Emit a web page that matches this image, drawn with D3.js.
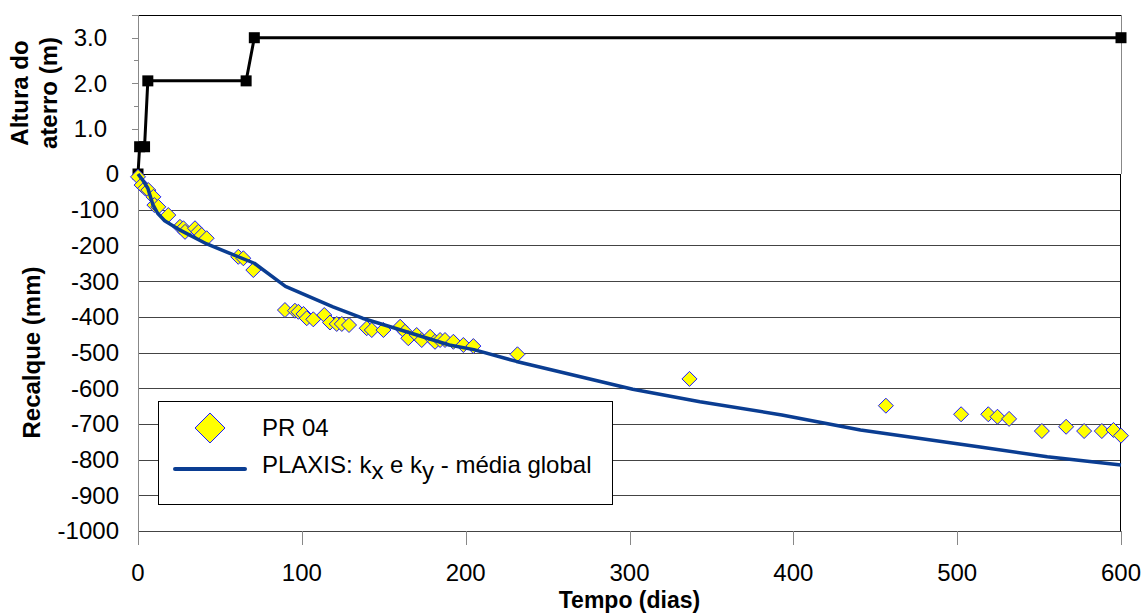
<!DOCTYPE html>
<html><head><meta charset="utf-8">
<script src="https://cdn.jsdelivr.net/npm/d3@7"></script>
<style>body{margin:0;background:#fff}svg{display:block;font-family:"Liberation Sans",Arial,sans-serif}</style>
</head><body>
<svg id="c" width="1145" height="613"></svg>
<script>
// Embankment height (top panel)
const fillTime = [0, 1, 4, 6, 66, 71, 600];
const fillHeight = [0, 0.6, 0.6, 2.05, 2.05, 3.0, 3.0];
// PR 04 measured settlement
const prTime = [0, 2.2, 4.3, 6.3, 9.4, 10, 12.4, 18.5, 25.6, 27.7, 28.7, 34.8, 36.8, 38.9, 41.9,
  61.2, 64.3, 70.4, 89.7, 95.8, 97.9, 101, 103, 107, 113.7, 117.2, 121.3, 124.4, 128.8,
  139.6, 142.7, 149.8, 160, 163, 165, 170.1, 173.2, 178.3, 181.3, 184.4, 187.4, 192.5, 198.6, 204.7,
  231.6, 336.6, 456.5, 502.4, 519, 524.6, 531.7, 551.7, 566.5, 577.5, 588.3, 595.4, 600];
const prSettle = [-8, -31, -40, -45, -64, -87, -92, -115, -148, -152, -162, -152, -162, -171, -180,
  -232, -236, -269, -381, -383, -386, -392, -404, -407, -395, -416, -420, -420, -423,
  -432, -437, -437, -428, -442, -460, -451, -465, -456, -470, -465, -465, -470, -479, -482,
  -505, -574, -649, -673, -673, -680, -686, -720, -708, -720, -720, -717, -733];
// PLAXIS prediction
const plaxisTime = [0, 3, 6, 9, 12, 16, 26, 42, 58, 71, 90, 119, 137, 154, 190, 205, 231, 302, 343, 393, 441, 514, 555, 600];
const plaxisSettle = [0, -18, -40, -85, -110, -130, -158, -196, -226, -250, -315, -372, -404, -428, -479, -492, -525, -603, -638, -675, -717, -765, -792, -815];
// ticks
const xTicks = [0, 100, 200, 300, 400, 500, 600];
const topTicks = [0, 1, 2, 3];
const topTickLabels = ["", "1.0", "2.0", "3.0"];
const topMinor = [0.5, 1.5, 2.5];
const botTicks = [0, -100, -200, -300, -400, -500, -600, -700, -800, -900, -1000];
const seriesNames = ["PR 04", "PLAXIS: k", "x", " e k", "y", " - média global"];

const svg = d3.select("#c");
const x = d3.scaleLinear().domain([0, 600]).range([138, 1121]);
const yT = d3.scaleLinear().domain([0, 3.5]).range([174, 15]);
const yB = d3.scaleLinear().domain([0, -1000]).range([174, 531]);
const FS = 24;
const lineColor = "#0a3d92";

// bottom grid
svg.append("g").selectAll("line").data(botTicks).join("line")
  .attr("x1", x(0)).attr("x2", x(600))
  .attr("y1", d => Math.round(yB(d)) + 0.5).attr("y2", d => Math.round(yB(d)) + 0.5)
  .attr("stroke", d => d === 0 ? "#000" : "#444").attr("stroke-width", 1);
// bottom right border
svg.append("line").attr("x1", Math.round(x(600)) - 0.5).attr("x2", Math.round(x(600)) - 0.5)
  .attr("y1", yB(0)).attr("y2", yB(-1000)).attr("stroke", "#000");
// top panel border
svg.append("line").attr("x1", x(0)).attr("x2", x(600)).attr("y1", 15.5).attr("y2", 15.5).attr("stroke", "#000");
svg.append("line").attr("x1", Math.round(x(600)) + 0.5).attr("x2", Math.round(x(600)) + 0.5)
  .attr("y1", 15).attr("y2", yT(0)).attr("stroke", "#888");

// y axes (gray)
svg.append("line").attr("x1", x(0) + 0.5).attr("x2", x(0) + 0.5).attr("y1", 15).attr("y2", yB(-1000) + 14).attr("stroke", "#888");
// top ticks
svg.append("g").selectAll("line").data(topTicks.concat([3.5])).join("line")
  .attr("x1", x(0) - 6).attr("x2", x(0)).attr("y1", d => Math.round(yT(d)) + 0.5).attr("y2", d => Math.round(yT(d)) + 0.5).attr("stroke", "#888");
svg.append("g").selectAll("line").data(topMinor).join("line")
  .attr("x1", x(0) - 4).attr("x2", x(0)).attr("y1", d => Math.round(yT(d)) + 0.5).attr("y2", d => Math.round(yT(d)) + 0.5).attr("stroke", "#888");
svg.append("g").selectAll("text").data(topTicks).join("text")
  .attr("x", 107).attr("y", d => yT(d)).attr("dy", "0.35em").attr("text-anchor", "end")
  .attr("font-size", FS).text((d, i) => topTickLabels[i]);
// bottom tick labels
svg.append("g").selectAll("text").data(botTicks).join("text")
  .attr("x", 119).attr("y", d => yB(d)).attr("dy", "0.35em").attr("text-anchor", "end")
  .attr("font-size", FS).text(d => d === 0 ? "0" : String(d));
// x axis ticks
svg.append("g").selectAll("line").data(xTicks).join("line")
  .attr("x1", d => Math.round(x(d)) + 0.5).attr("x2", d => Math.round(x(d)) + 0.5)
  .attr("y1", yB(-1000)).attr("y2", yB(-1000) + 14).attr("stroke", "#888");
svg.append("g").selectAll("text").data(xTicks).join("text")
  .attr("x", d => x(d)).attr("y", 581).attr("text-anchor", "middle")
  .attr("font-size", FS).text(d => d);

// titles
svg.append("text").attr("x", x(300)).attr("y", 608).attr("text-anchor", "middle")
  .attr("font-size", 23).attr("font-weight", "bold").text("Tempo (dias)");
svg.append("text").attr("transform", `translate(32,${yB(-500)}) rotate(-90)`).attr("dy", "0.35em")
  .attr("text-anchor", "middle").attr("font-size", FS).attr("font-weight", "bold").text("Recalque (mm)");
svg.append("text").attr("transform", `translate(20,93) rotate(-90)`).attr("dy", "0.35em")
  .attr("text-anchor", "middle").attr("font-size", FS).attr("font-weight", "bold").text("Altura do");
svg.append("text").attr("transform", `translate(49,93) rotate(-90)`).attr("dy", "0.35em")
  .attr("text-anchor", "middle").attr("font-size", FS).attr("font-weight", "bold").text("aterro (m)");

// top series
const fillData = fillTime.map((t, i) => [t, fillHeight[i]]);
svg.append("path").datum(fillData)
  .attr("d", d3.line().x(d => x(d[0])).y(d => yT(d[1])))
  .attr("fill", "none").attr("stroke", "#000").attr("stroke-width", 3);
svg.append("g").selectAll("rect").data(fillData).join("rect")
  .attr("x", d => x(d[0]) - 5.5).attr("y", d => yT(d[1]) - 5.5).attr("width", 11).attr("height", 11).attr("fill", "#000");

// diamonds
const diamond = (cx, cy, r) => `M${cx},${cy - r}L${cx + r},${cy}L${cx},${cy + r}L${cx - r},${cy}Z`;
const prData = prTime.map((t, i) => [t, prSettle[i]]);
svg.append("g").selectAll("path").data(prData).join("path")
  .attr("d", d => diamond(x(d[0]), yB(d[1]), 7.5))
  .attr("fill", "#ffff00").attr("stroke", "#1a1aff").attr("stroke-width", 1);

// plaxis line
const plData = plaxisTime.map((t, i) => [t, plaxisSettle[i]]);
svg.append("path").datum(plData)
  .attr("d", d3.line().x(d => x(d[0])).y(d => yB(d[1])))
  .attr("fill", "none").attr("stroke", lineColor).attr("stroke-width", 3.5).attr("stroke-linejoin", "round");

// legend
const lg = svg.append("g");
lg.append("rect").attr("x", 158.5).attr("y", 401.5).attr("width", 454).attr("height", 103).attr("fill", "#fff").attr("stroke", "#000");
lg.append("path").attr("d", diamond(210, 428, 15)).attr("fill", "#ffff00").attr("stroke", "#1a1aff");
lg.append("text").attr("x", 262).attr("y", 428).attr("dy", "0.35em").attr("font-size", FS).text(seriesNames[0]);
lg.append("line").attr("x1", 175).attr("x2", 245).attr("y1", 469).attr("y2", 469).attr("stroke", lineColor).attr("stroke-width", 4).attr("stroke-linecap", "round");
const t2 = lg.append("text").attr("x", 262).attr("y", 465).attr("dy", "0.35em").attr("font-size", FS);
t2.append("tspan").text(seriesNames[1]);
t2.append("tspan").attr("dy", 6).text(seriesNames[2]);
t2.append("tspan").attr("dy", -6).text(seriesNames[3]);
t2.append("tspan").attr("dy", 6).text(seriesNames[4]);
t2.append("tspan").attr("dy", -6).text(seriesNames[5]);
</script>
</body></html>
